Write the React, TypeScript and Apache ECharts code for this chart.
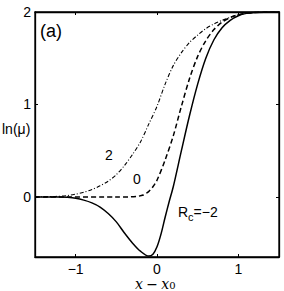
import React, { useEffect, useRef } from "react";
import * as echarts from "echarts";

const xTicks = [-1, 0, 1];
const yTicks = [0, 1, 2];

const xSolid = [-1.5, -1.2, -1.1, -1.0, -0.9, -0.8, -0.7, -0.6, -0.5, -0.4, -0.3, -0.2, -0.1, -0.05, 0, 0.05, 0.1, 0.15, 0.2, 0.3, 0.4, 0.5, 0.6, 0.7, 0.8, 0.9, 1.0, 1.1, 1.2, 1.5];
const ySolid = [0, 0, -0.005, -0.015, -0.035, -0.065, -0.11, -0.18, -0.27, -0.39, -0.5, -0.59, -0.64, -0.62, -0.54, -0.4, -0.22, -0.05, 0.11, 0.5, 0.88, 1.22, 1.5, 1.7, 1.83, 1.91, 1.96, 1.985, 1.995, 2.0];

const xDashed = [-1.5, -0.5, -0.35, -0.25, -0.17, -0.1, -0.05, 0, 0.1, 0.2, 0.3, 0.4, 0.5, 0.6, 0.7, 0.8, 0.9, 1.0, 1.2, 1.5];
const yDashed = [0, 0, 0, 0.005, 0.02, 0.06, 0.11, 0.18, 0.4, 0.66, 0.98, 1.28, 1.52, 1.69, 1.81, 1.89, 1.94, 1.97, 1.995, 2.0];

const xDashDot = [-1.5, -1.25, -1.1, -1.0, -0.9, -0.8, -0.7, -0.6, -0.5, -0.4, -0.3, -0.2, -0.1, 0, 0.1, 0.2, 0.3, 0.4, 0.5, 0.6, 0.7, 0.8, 1.0, 1.2, 1.5];
const yDashDot = [0, 0.005, 0.015, 0.03, 0.05, 0.08, 0.12, 0.17, 0.24, 0.34, 0.46, 0.6, 0.79, 0.98, 1.22, 1.42, 1.56, 1.67, 1.75, 1.82, 1.87, 1.91, 1.97, 1.995, 2.0];

const zip = (xs: number[], ys: number[]) => xs.map((x, i) => [x, ys[i]]);

const SANS = "'Liberation Sans', Arial, Helvetica, sans-serif";
const SERIF = "'DejaVu Serif', 'Liberation Serif', serif";
const fmt = (v: number) => String(v).replace("-", "\u2212");

export default function App() {
  const ref = useRef<HTMLDivElement>(null);
  useEffect(() => {
    if (!ref.current) return;
    const chart = echarts.init(ref.current, null, { renderer: "svg" });
    const grid = { left: 35, top: 12, right: 5, bottom: 34 };
    const tickCommon = { inside: true, length: 3, lineStyle: { color: "#000", width: 1 } };
    const line = { show: true, onZero: false, lineStyle: { color: "#000", width: 1.3 } };
    chart.setOption({
      animation: false,
      backgroundColor: "#fff",
      grid: { ...grid, show: true, borderColor: "#000", borderWidth: 1.3, backgroundColor: "transparent" },
      xAxis: [
        {
          type: "value", min: -1.5, max: 1.5, position: "bottom",
          splitLine: { show: false },
          axisLine: line,
          axisTick: { ...tickCommon, customValues: xTicks },
          axisLabel: { customValues: xTicks, formatter: fmt, color: "#000", fontFamily: SANS, fontSize: 14, lineHeight: 14, margin: 5 },
        },
        {
          type: "value", min: -1.5, max: 1.5, position: "top",
          splitLine: { show: false },
          axisLine: line,
          axisTick: { ...tickCommon, customValues: xTicks },
          axisLabel: { show: false },
        },
      ],
      yAxis: [
        {
          type: "value", min: -0.65, max: 2, position: "left",
          splitLine: { show: false },
          axisLine: line,
          axisTick: { ...tickCommon, customValues: yTicks },
          axisLabel: { customValues: yTicks, formatter: fmt, color: "#000", fontFamily: SANS, fontSize: 14, margin: 4 },
        },
        {
          type: "value", min: -0.65, max: 2, position: "right",
          splitLine: { show: false },
          axisLine: line,
          axisTick: { ...tickCommon, customValues: yTicks },
          axisLabel: { show: false },
        },
      ],
      series: [
        {
          type: "line", name: "Rc=-2", data: zip(xSolid, ySolid), smooth: 0.3, showSymbol: false,
          lineStyle: { color: "#000", width: 1.5, type: "solid" },
        },
        {
          type: "line", name: "0", data: zip(xDashed, yDashed), smooth: 0.3, showSymbol: false,
          lineStyle: { color: "#000", width: 1.5, type: [5, 3] },
        },
        {
          type: "line", name: "2", data: zip(xDashDot, yDashDot), smooth: 0.3, showSymbol: false,
          lineStyle: { color: "#000", width: 1.1, type: [4, 2, 1, 2] },
        },
      ],
      graphic: [
        { type: "text", x: 40, y: 31, style: { text: "(a)", font: `18px ${SANS}`, fill: "#000", verticalAlign: "middle" } },
        { type: "text", x: 2, y: 129, style: { text: "ln(\u03bc)", font: `14px ${SANS}`, fill: "#000", verticalAlign: "middle" } },
        { type: "text", x: 105, y: 155, style: { text: "2", font: `14px ${SANS}`, fill: "#000", verticalAlign: "middle" } },
        { type: "text", x: 133, y: 179, style: { text: "0", font: `14px ${SANS}`, fill: "#000", verticalAlign: "middle" } },
        {
          type: "text", x: 178, y: 212,
          style: {
            text: "{a|R}{s|c}{a|=\u22122}",
            fill: "#000", verticalAlign: "middle",
            rich: {
              a: { fontFamily: SANS, fontSize: 14, fill: "#000" },
              s: { fontFamily: SANS, fontSize: 11, fill: "#000", padding: [9, 0, 0, 0] },
            },
          },
        },
        {
          type: "text", x: 135, y: 284,
          style: {
            text: "{i|x} {n|\u2212} {i|x}{s|0}",
            fill: "#000", verticalAlign: "middle",
            rich: {
              i: { fontFamily: SERIF, fontStyle: "italic", fontSize: 14, lineHeight: 13, fill: "#000" },
              n: { fontFamily: SERIF, fontSize: 14, lineHeight: 13, fill: "#000" },
              s: { fontFamily: SERIF, fontSize: 10, lineHeight: 9, verticalAlign: "bottom", fill: "#000" },
            },
          },
        },
      ],
    });
    return () => chart.dispose();
  }, []);
  return <div ref={ref} style={{ position: "absolute", left: 0, top: 0, width: 284, height: 291 }} />;
}
